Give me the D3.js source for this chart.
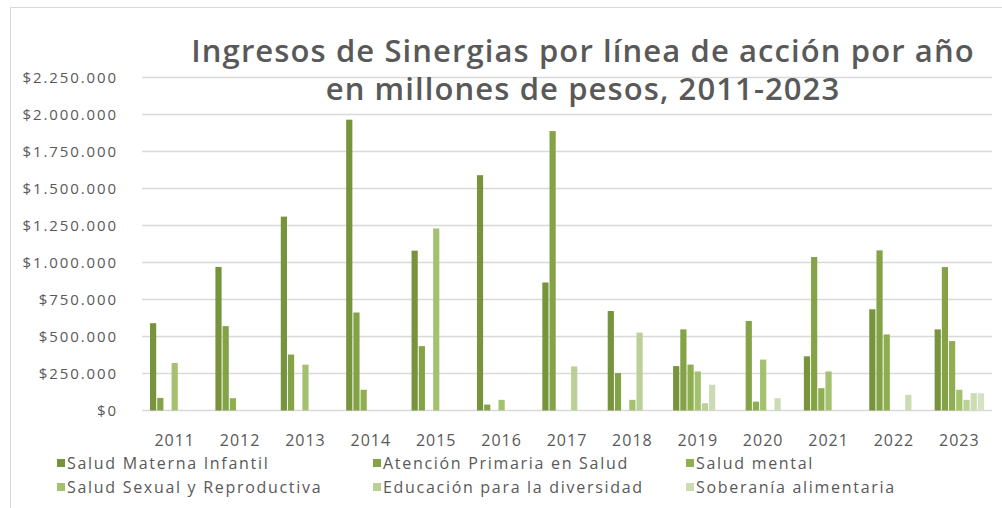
<!DOCTYPE html>
<html>
<head>
<meta charset="utf-8">
<script src="https://cdn.jsdelivr.net/npm/d3@7"></script>
<style>
  body { margin: 0; background: #fff; }
  text { font-family: "Open Sans", sans-serif; fill: #595959; }
</style>
</head>
<body>
<div id="chart"></div>
<script>
const years = ['2011', '2012', '2013', '2014', '2015', '2016', '2017', '2018', '2019', '2020', '2021', '2022', '2023']

const saludMaternaInfantil = [590000, 970000, 1310000, 1965000, 1080000, 1590000, 865000, 672000, 300000, 0, 366000, 684000, 548000]
const atencionPrimaria = [85000, 570000, 378000, 662000, 435000, 40000, 1888000, 253000, 548000, 605000, 1037000, 1082000, 969000]
const saludMental = [0, 83000, 0, 140000, 0, 0, 0, 0, 310000, 60000, 151000, 514000, 469000]
const saludSexual = [321000, 0, 310000, 0, 1230000, 72000, 0, 72000, 264000, 344000, 264000, 0, 140000]
const educacionDiversidad = [0, 0, 0, 0, 0, 0, 298000, 526000, 49000, 0, 0, 0, 72000]
const soberaniaAlimentaria = [0, 0, 0, 0, 0, 0, 0, 0, 174000, 83000, 0, 106000, 117000]
// 7th bar in 2023: its legend entry is cut off below the picture, so it has no legend here
const otros = [0, 0, 0, 0, 0, 0, 0, 0, 0, 0, 0, 0, 117000]

const seriesNames = ['Salud Materna Infantil', 'Atención Primaria en Salud', 'Salud mental',
  'Salud Sexual y Reproductiva', 'Educación para la diversidad', 'Soberanía alimentaria']
const seriesValues = [saludMaternaInfantil, atencionPrimaria, saludMental, saludSexual,
  educacionDiversidad, soberaniaAlimentaria, otros]
const colors = ['#77933c', '#84a246', '#8fae50', '#a3c16e', '#bad097', '#cbdbb3', '#d5e2c4']

const yTicks = [0, 250000, 500000, 750000, 1000000, 1250000, 1500000, 1750000, 2000000, 2250000]

const width = 1002
const height = 508

const locale = d3.formatLocale({decimal: ',', thousands: '.', grouping: [3], currency: ['$', '']})
const fmt = locale.format('$,.0f')

const svg = d3.select('#chart').append('svg')
  .attr('width', width)
  .attr('height', height)

// chart frame
svg.append('rect')
  .attr('x', 10.5).attr('y', 7.5)
  .attr('width', 1000).attr('height', 520)
  .attr('fill', 'none')
  .attr('stroke', '#d9d9d9')

const x0 = d3.scaleBand()
  .domain(years)
  .range([142, 992])
  .paddingInner(0.23)
  .paddingOuter(0.115)

const x1 = d3.scaleBand()
  .domain(d3.range(seriesValues.length))
  .range([0, x0.bandwidth()])

const y = d3.scaleLinear()
  .domain([0, 2250000])
  .range([410.5, 77.5])

// grid
svg.append('g')
  .selectAll('line')
  .data(yTicks)
  .enter().append('line')
  .attr('x1', 142).attr('x2', 992)
  .attr('y1', d => y(d)).attr('y2', d => y(d))
  .attr('stroke', '#d9d9d9')
  .attr('stroke-width', 1.3)

// y labels
svg.append('g')
  .selectAll('text')
  .data(yTicks)
  .enter().append('text')
  .attr('x', 118)
  .attr('y', d => y(d) + 5)
  .attr('text-anchor', 'end')
  .style('font-size', '15px')
  .style('letter-spacing', '1.9px')
  .text(d => fmt(d))

// x labels
svg.append('g')
  .selectAll('text')
  .data(years)
  .enter().append('text')
  .attr('x', d => x0(d) + x0.bandwidth() / 2)
  .attr('y', 446)
  .attr('text-anchor', 'middle')
  .style('font-size', '16px')
  .style('letter-spacing', '1px')
  .text(d => d)

// bars
const groups = svg.append('g')
  .selectAll('g')
  .data(years)
  .enter().append('g')
  .attr('transform', d => 'translate(' + x0(d) + ',0)')

groups.selectAll('rect')
  .data((d, i) => seriesValues.map((vals, s) => ({s, v: vals[i]})).filter(d => d.v > 0))
  .enter().append('rect')
  .attr('x', d => x1(d.s) + 0.5)
  .attr('width', x1.bandwidth() - 1)
  .attr('y', d => y(d.v))
  .attr('height', d => y(0) - y(d.v))
  .attr('fill', d => colors[d.s])

// title
const title = svg.append('text')
  .attr('x', 583)
  .attr('y', 62)
  .attr('text-anchor', 'middle')
  .style('font-size', '31px')
  .style('font-weight', '600')
  .style('letter-spacing', '1.1px')
title.append('tspan').attr('x', 583).attr('dy', 0).text('Ingresos de Sinergias por línea de acción por año')
title.append('tspan').attr('x', 583).attr('dy', 38).text('en millones de pesos, 2011-2023')

// legend
const legendX = [57, 373, 686]
const legend = svg.append('g')
  .selectAll('g')
  .data(seriesNames)
  .enter().append('g')
  .attr('transform', (d, i) => 'translate(' + legendX[i % 3] + ',' + (469 + Math.floor(i / 3) * 24) + ')')

legend.append('rect')
  .attr('x', 0).attr('y', -10)
  .attr('width', 8).attr('height', 8)
  .attr('fill', (d, i) => colors[i])

legend.append('text')
  .attr('x', 10)
  .attr('y', 0)
  .style('font-size', '16px')
  .style('letter-spacing', '1.7px')
  .text(d => d)
</script>
</body>
</html>
